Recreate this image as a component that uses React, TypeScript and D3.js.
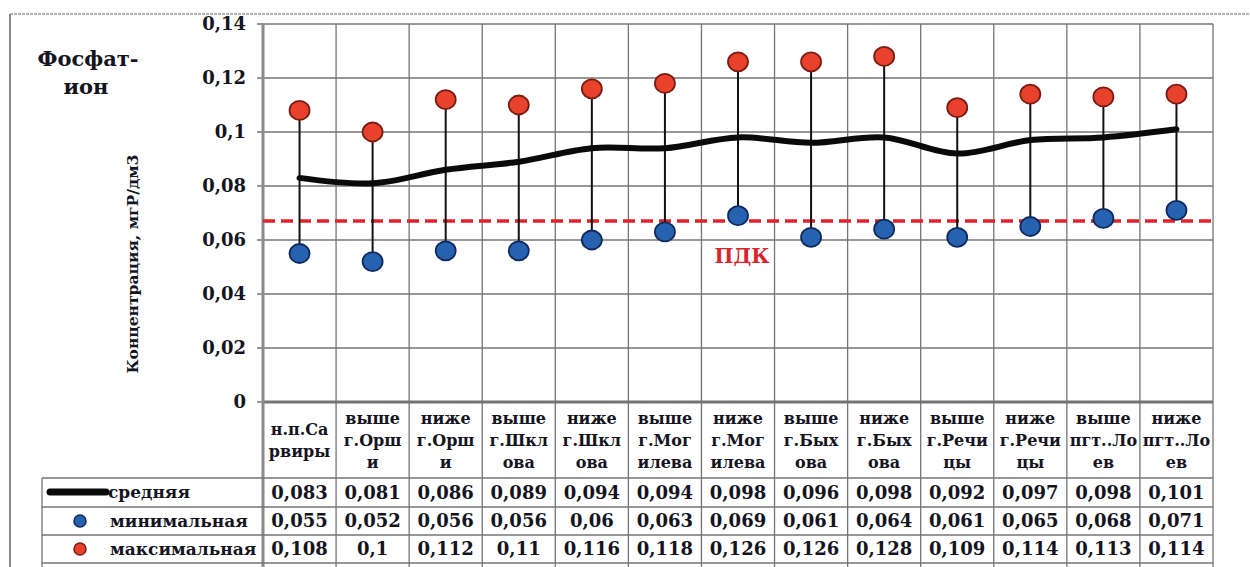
import React from "react";
import * as d3 from "d3";

const width = 1250;
const height = 567;

// категории (подписи строк таблицы, разбиты как в Excel)
const categoryLines = [
  ["н.п.Са", "рвиры"],
  ["выше", "г.Орш", "и"],
  ["ниже", "г.Орш", "и"],
  ["выше", "г.Шкл", "ова"],
  ["ниже", "г.Шкл", "ова"],
  ["выше", "г.Мог", "илева"],
  ["ниже", "г.Мог", "илева"],
  ["выше", "г.Быx", "ова"],
  ["ниже", "г.Быx", "ова"],
  ["выше", "г.Речи", "цы"],
  ["ниже", "г.Речи", "цы"],
  ["выше", "пгт..Ло", "ев"],
  ["ниже", "пгт..Ло", "ев"],
];

const meanValues = [0.083, 0.081, 0.086, 0.089, 0.094, 0.094, 0.098, 0.096, 0.098, 0.092, 0.097, 0.098, 0.101];
const minValues = [0.055, 0.052, 0.056, 0.056, 0.06, 0.063, 0.069, 0.061, 0.064, 0.061, 0.065, 0.068, 0.071];
const maxValues = [0.108, 0.1, 0.112, 0.11, 0.116, 0.118, 0.126, 0.126, 0.128, 0.109, 0.114, 0.113, 0.114];
const pdkValue = 0.067;

const yTicks = [0, 0.02, 0.04, 0.06, 0.08, 0.1, 0.12, 0.14];
const seriesNames = ["средняя", "минимальная", "максимальная"];

const plot = { left: 263, right: 1213, top: 24, bottom: 402 };
const rows = [478, 507, 535, 563];
const tableLeft = 42;

const font = "'DejaVu Serif', 'Liberation Serif', serif";
const ink = "#14141e";
const grid = "#747474";
const red = "#e8412c";
const redEdge = "#7a1c12";
const blue = "#2762b0";
const blueEdge = "#0e2a5c";

const fmt = (v: number) => String(v).replace(".", ",");
const txt = { fontFamily: font, fontWeight: 700 as const };

export default function App() {
  const idx = d3.range(categoryLines.length);
  const x = d3.scaleBand<number>().domain(idx).range([plot.left, plot.right]).padding(0);
  const cx = (i: number) => (x(i) as number) + x.bandwidth() / 2;
  const y = d3.scaleLinear().domain([0, 0.14]).range([plot.bottom, plot.top]);

  const meanLine = d3
    .line<number>()
    .x((d, i) => cx(i))
    .y(d => y(d))
    .curve(d3.curveCatmullRom.alpha(0.5));

  const boundaries = idx.map(i => x(i) as number).concat([plot.right]);
  const tableData = [meanValues, minValues, maxValues];

  return (
    <svg
      width={width}
      height={height}
      style={{ position: "absolute", left: 0, top: 0, background: "#fff" }}
    >
      {/* рамка диаграммы */}
      <line x1={10} x2={1250} y1={14} y2={14} stroke="#9a9a9a" strokeWidth={1.5} strokeDasharray="3,1" />
      <line x1={10} x2={10} y1={14} y2={567} stroke="#8a8a8a" strokeWidth={2} />

      {/* горизонтальная сетка */}
      {yTicks.map(t => (
        <g key={t}>
          <line x1={plot.left} x2={plot.right} y1={y(t)} y2={y(t)} stroke={grid} strokeWidth={t === 0 ? 3 : 1.3} />
          <line x1={plot.left - 6} x2={plot.left} y1={y(t)} y2={y(t)} stroke={grid} strokeWidth={1.5} />
          <text x={246} y={y(t)} dy="0.35em" textAnchor="end" fontSize={18} fill={ink} style={txt}>
            {fmt(t)}
          </text>
        </g>
      ))}

      {/* вертикальные линии (сетка и таблица) */}
      {boundaries.map((b, i) => (
        <line
          key={i}
          x1={b}
          x2={b}
          y1={plot.top}
          y2={567}
          stroke={i === 0 ? "#8a8a8a" : grid}
          strokeWidth={i === 0 ? 3 : 1.3}
        />
      ))}
      <line x1={tableLeft} x2={tableLeft} y1={rows[0]} y2={567} stroke={grid} strokeWidth={1.3} />
      {rows.map(r => (
        <line key={r} x1={tableLeft} x2={plot.right} y1={r} y2={r} stroke={grid} strokeWidth={1.3} />
      ))}

      {/* ПДК */}
      <line
        x1={plot.left}
        x2={plot.right}
        y1={y(pdkValue)}
        y2={y(pdkValue)}
        stroke="#e0232a"
        strokeWidth={3.5}
        strokeDasharray="12,6"
      />
      <text x={742} y={263} textAnchor="middle" fontSize={20} fill="#d8242c" style={txt}>
        ПДК
      </text>

      {/* отрезки мин-макс */}
      {idx.map(i => (
        <line
          key={i}
          x1={cx(i)}
          x2={cx(i)}
          y1={y(minValues[i])}
          y2={y(maxValues[i])}
          stroke="#111"
          strokeWidth={2}
        />
      ))}

      {/* средняя */}
      <path d={meanLine(meanValues) || ""} fill="none" stroke="#0a0a0a" strokeWidth={6} strokeLinecap="round" />

      {idx.map(i => (
        <g key={i}>
          <ellipse cx={cx(i)} cy={y(minValues[i])} rx={10} ry={9.5} fill={blue} stroke={blueEdge} strokeWidth={1.8} />
          <ellipse cx={cx(i)} cy={y(maxValues[i])} rx={10} ry={9.5} fill={red} stroke={redEdge} strokeWidth={1.8} />
        </g>
      ))}

      {/* заголовок */}
      <text x={88} y={66} textAnchor="middle" fontSize={21} fill={ink} style={txt}>
        Фосфат-
      </text>
      <text x={86} y={94} textAnchor="middle" fontSize={21} fill={ink} style={txt}>
        ион
      </text>
      <text
        transform={`translate(138,264) rotate(-90)`}
        textAnchor="middle"
        fontSize={15.5}
        fill={ink}
        style={txt}
      >
        Концентрация, мгР/дм3
      </text>

      {/* подписи категорий */}
      {categoryLines.map((lines, i) => {
        const mid = (plot.bottom + rows[0]) / 2;
        const lh = 22;
        const start = mid - ((lines.length - 1) * lh) / 2;
        return (
          <text key={i} textAnchor="middle" fontSize={16} fill={ink} style={txt}>
            {lines.map((l, j) => (
              <tspan key={j} x={cx(i)} y={start + j * lh} dy="0.35em">
                {l}
              </tspan>
            ))}
          </text>
        );
      })}

      {/* значения таблицы */}
      {tableData.map((vals, r) => {
        const rowMid = (rows[r] + rows[r + 1]) / 2;
        return (
          <g key={r}>
            {vals.map((v, i) => (
              <text
                key={i}
                x={cx(i)}
                y={rowMid}
                dy="0.35em"
                textAnchor="middle"
                fontSize={18}
                fill={ink}
                style={txt}
              >
                {fmt(v)}
              </text>
            ))}
          </g>
        );
      })}

      {/* легенда */}
      <line x1={50} x2={106} y1={492} y2={492} stroke="#0a0a0a" strokeWidth={7} strokeLinecap="round" />
      <circle cx={80} cy={521} r={6} fill={blue} stroke={blueEdge} strokeWidth={1.5} />
      <circle cx={80} cy={549} r={6} fill={red} stroke={redEdge} strokeWidth={1.5} />
      {seriesNames.map((s, r) => (
        <text
          key={s}
          x={r === 0 ? 108 : 110}
          y={(rows[r] + rows[r + 1]) / 2}
          dy="0.35em"
          fontSize={17}
          fill={ink}
          style={txt}
        >
          {s}
        </text>
      ))}
    </svg>
  );
}
